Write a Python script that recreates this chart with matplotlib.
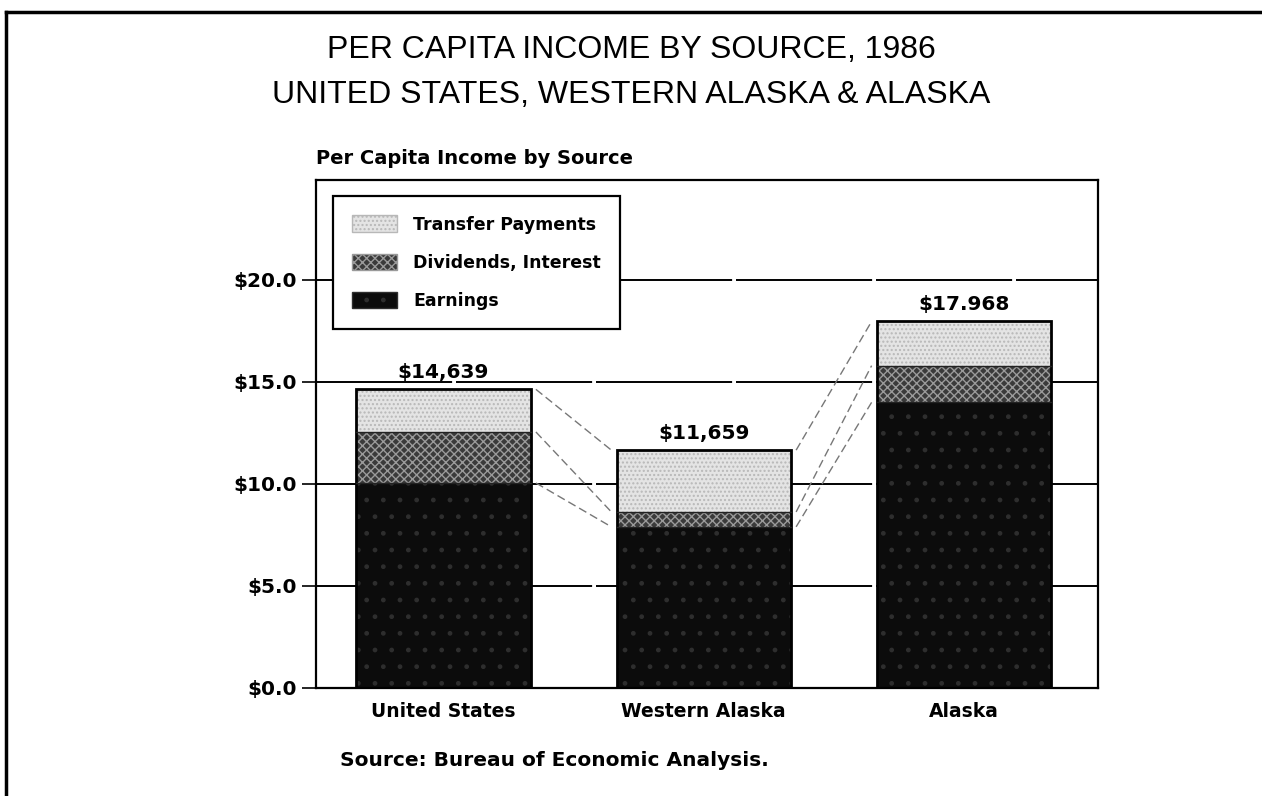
import matplotlib
matplotlib.use("Agg")
import matplotlib.pyplot as plt
from matplotlib.patches import Patch
from matplotlib.lines import Line2D
import numpy as np

plt.rcParams['font.family'] = ['Liberation Sans', 'DejaVu Sans']
plt.rcParams['hatch.linewidth'] = 1.0

# Data (thousands of dollars per capita, 1986)
regions = ["United States", "Western Alaska", "Alaska"]
earnings = [10.05, 7.9, 14.0]
dividends = [2.5, 0.73, 1.8]
transfers = [2.089, 3.029, 2.168]
total_labels = ["$14,639", "$11,659", "$17.968"]
yticks = [0, 5, 10, 15, 20]
ytick_labels = ["$0.0", "$5.0", "$10.0", "$15.0", "$20.0"]

series = [
    ("Earnings", earnings, '#0c0c0c', '.', '#2e2e2e'),
    ("Dividends, Interest", dividends, '#3a3a3a', 'xxxx', '#9a9a9a'),
    ("Transfer Payments", transfers, '#e4e4e4', '....', '#b8b8b8'),
]

fig = plt.figure(figsize=(12.62, 7.96), dpi=100)
ax = fig.add_axes([316/1262, 1-688/796, (1098-316)/1262, (688-180)/796])

x = np.arange(len(regions))
width = 0.67

# grid lines behind bars
for t in yticks[1:]:
    ax.axhline(t, color='black', lw=1.4, ls=(0, (70, 2)), zorder=1)

bottoms = np.zeros(len(regions))
bounds = []
for name, vals, fc, hatch, hc in series:
    vals = np.array(vals)
    ax.bar(x, vals, width, bottom=bottoms, color=fc, hatch=hatch,
           edgecolor=hc, linewidth=0, zorder=2)
    bottoms = bottoms + vals
    bounds.append(bottoms.copy())
# outlines
ax.bar(x, bottoms, width, facecolor='none', edgecolor='black', linewidth=2, zorder=3)
for b in bounds[:-1]:
    for i in range(len(regions)):
        ax.plot([x[i]-width/2, x[i]+width/2], [b[i], b[i]], color='#222222', lw=1, zorder=3)

# connecting lines between bars
for b in bounds:
    for i in range(len(regions)-1):
        ax.plot([x[i]+width/2+0.02, x[i+1]-width/2-0.02], [b[i], b[i+1]],
                color='#777777', lw=1, ls=(0, (6, 3)), zorder=1.5)

for i, lab in enumerate(total_labels):
    ax.text(x[i], bottoms[i]+0.35, lab, ha='center', va='bottom',
            fontsize=14.5, fontweight='bold', family=['DejaVu Sans'])

ax.set_xlim(-0.49, 2.515)
ax.set_ylim(0, 24.9)
ax.set_xticks(x)
ax.set_xticklabels(regions, fontsize=13.5, fontweight='bold', family=['DejaVu Sans'])
ax.set_yticks(yticks)
ax.set_yticklabels(ytick_labels, fontsize=14.5, fontweight='bold', family=['DejaVu Sans'])
ax.tick_params(axis='x', length=0, pad=10)
ax.tick_params(axis='y', length=10, width=1.2, direction='out', pad=4)
for s in ax.spines.values():
    s.set_linewidth(1.6)

handles = [Patch(facecolor=fc, hatch=h, edgecolor=hc, label=n)
           for n, _, fc, h, hc in series[::-1]]
leg = ax.legend(handles=handles, loc='upper left', bbox_to_anchor=(0.022, 0.968),
                frameon=True, fancybox=False, edgecolor='black', framealpha=1,
                prop={'family': 'DejaVu Sans', 'weight': 'bold', 'size': 12.5},
                handlelength=2.6, handleheight=1.1, labelspacing=1.15,
                borderpad=1.1, handletextpad=0.9, borderaxespad=0)
leg.get_frame().set_linewidth(1.6)
leg.set_zorder(5)

fig.text(631/1262, 1-50/796, "PER CAPITA INCOME BY SOURCE, 1986", ha='center', va='center',
         fontsize=23)
fig.text(631/1262, 1-95/796, "UNITED STATES, WESTERN ALASKA & ALASKA", ha='center', va='center',
         fontsize=23)
fig.text(316/1262, 1-158/796, "Per Capita Income by Source", ha='left', va='center',
         fontsize=14, fontweight='bold', family=['DejaVu Sans'])
fig.text(340/1262, 1-760/796, "Source: Bureau of Economic Analysis.", ha='left', va='center',
         fontsize=14.5, fontweight='bold', family=['DejaVu Sans'])

# figure border (top and left)
fig.add_artist(Line2D([6/1262, 1], [1-12/796, 1-12/796], color='black', lw=2.5))
fig.add_artist(Line2D([6/1262, 6/1262], [0, 1-12/796], color='black', lw=2.5))

fig.savefig("out.png", dpi=100)
